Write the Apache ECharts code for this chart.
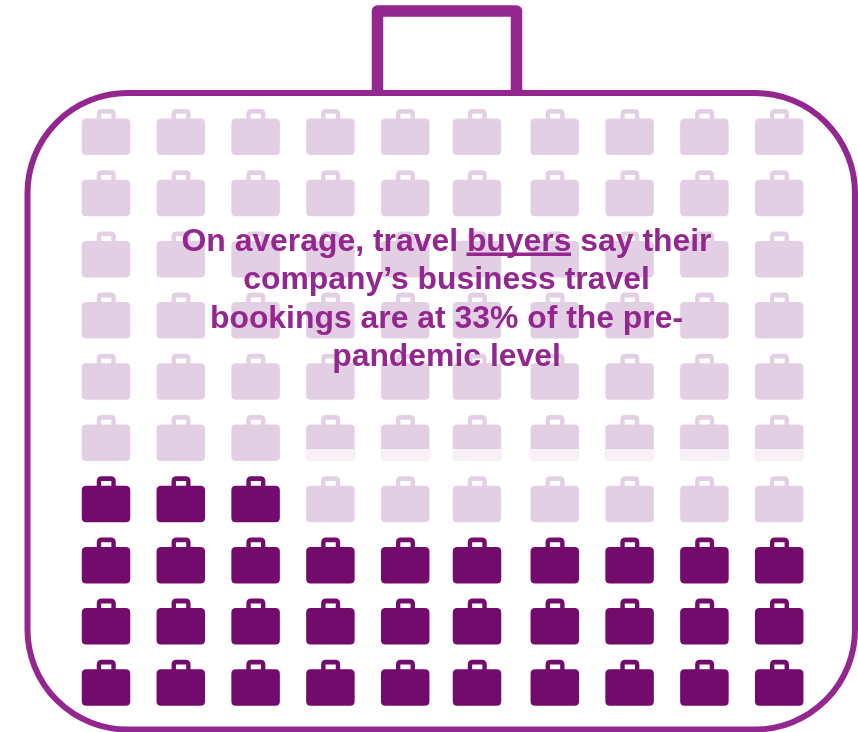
<!DOCTYPE html>
<html><head><meta charset="utf-8">
<style>html,body{margin:0;padding:0;background:#fff}#c{width:858px;height:732px}</style>
<script src="https://cdn.jsdelivr.net/npm/echarts@6/dist/echarts.min.js"></script>
</head><body><div id="c"></div>
<script>
var columns = ['1','2','3','4','5','6','7','8','9','10'];
var rows = ['1','2','3','4','5','6','7','8','9','10'];
var filledCount = 33;
var totalCount = 100;
var fadedRow = '6';
var fadedColumns = ['4','5','6','7','8','9','10'];
var headline = ['On average, travel buyers say their','company\u2019s business travel','bookings are at 33% of the pre-','pandemic level'];

var icon = 'path://M4.5 9.5H15V5Q15 0 20 0H29Q34 0 34 5V9.5H44Q48.5 9.5 48.5 14V41.5Q48.5 46 44 46H4.5Q0 46 0 41.5V14Q0 9.5 4.5 9.5ZM19.4 9.5H29.6V4.8H19.4Z';
var strip = 'path://M0 0H48.5V7.5Q48.5 12 44 12H4.5Q0 12 0 7.5Z';

var dark = [], light = [], faded = [];
for (var n = 0; n < totalCount; n++) {
  var r = rows.length - 1 - Math.floor(n / columns.length);
  var c = n % columns.length;
  var item = {value: [columns[c], rows[r]]};
  if (c === 5) item.symbolOffset = [-3, 0];
  (n < filledCount ? dark : light).push(item);
}
fadedColumns.forEach(function (col) {
  var item = {value: [col, fadedRow]};
  item.symbolOffset = [col === '6' ? -3 : 0, 17];
  faded.push(item);
});

var chart = echarts.init(document.getElementById('c'), null, {renderer: 'canvas'});
chart.setOption({
  animation: false,
  backgroundColor: '#ffffff',
  title: {
    text: headline.join('\n'), left: 441.5, top: 218, textAlign: 'center',
    textStyle: {fontFamily: '"Liberation Sans",Arial,sans-serif', fontWeight: 'bold', fontSize: 31.9, lineHeight: 38.4, color: '#93278f'}
  },
  grid: {left: 68.6, top: 101.4, width: 748, height: 612},
  xAxis: {type: 'category', data: columns, show: false},
  yAxis: {type: 'category', data: rows, inverse: true, show: false},
  graphic: [
    {type: 'rect', z: 1, shape: {x: 27.5, y: 93, width: 827.5, height: 636.5, r: 100},
     style: {fill: 'none', stroke: '#93278f', lineWidth: 6}},
    {type: 'polyline', z: 1, shape: {points: [[377.5, 91], [377.5, 11], [516.5, 11], [516.5, 91]]},
     style: {fill: 'none', stroke: '#93278f', lineWidth: 11.5, lineJoin: 'round', lineCap: 'butt'}},
    {type: 'rect', z: 10, shape: {x: 466.5, y: 252.5, width: 104.5, height: 3.4}, style: {fill: '#93278f'}}
  ],
  series: [
    {type: 'scatter', name: 'Pre-pandemic level', data: light, symbol: icon, symbolSize: [48.5, 46], itemStyle: {color: '#e2cfe3', opacity: 1}, silent: true, z: 2},
    {type: 'scatter', name: 'Faded edge', data: faded, symbol: strip, symbolSize: [48.5, 12], itemStyle: {color: '#f7f1f7', opacity: 1}, silent: true, z: 3},
    {type: 'scatter', name: 'Current bookings', data: dark, symbol: icon, symbolSize: [48.5, 46], itemStyle: {color: '#720b6b', opacity: 1}, silent: true, z: 2}
  ]
});
</script></body></html>
